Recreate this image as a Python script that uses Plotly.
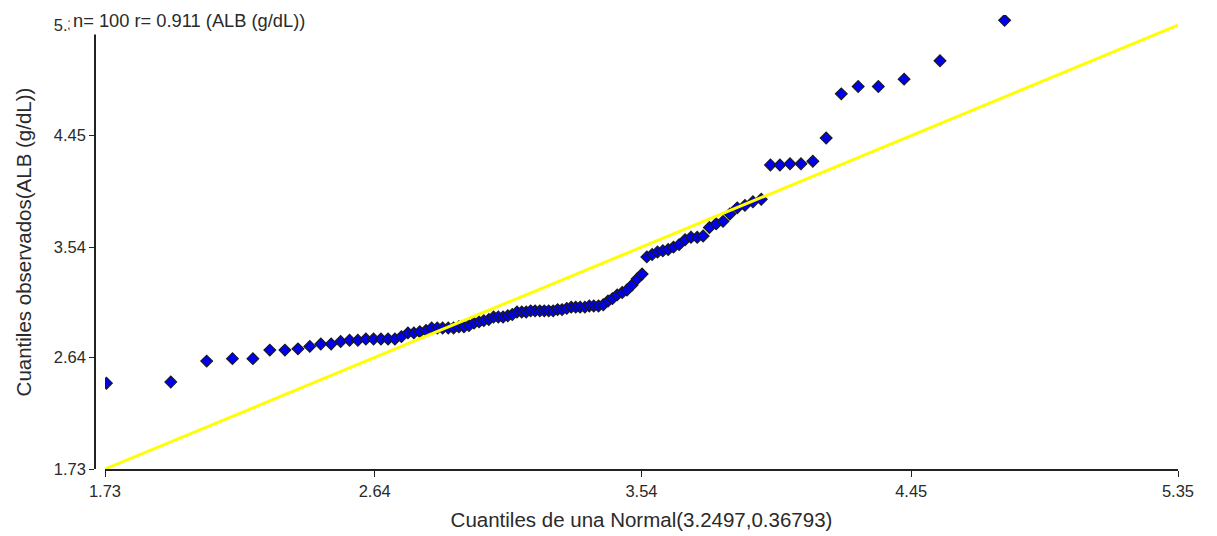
import plotly.graph_objects as go

# Theoretical quantiles of Normal(3.2497, 0.36793) for n = 100
theoretical_q = [
    1.735, 1.952, 2.073, 2.160, 2.229, 2.286, 2.337, 2.381, 2.421, 2.458,
    2.493, 2.525, 2.555, 2.583, 2.610, 2.636, 2.661, 2.685, 2.708, 2.730,
    2.752, 2.772, 2.792, 2.813, 2.832, 2.851, 2.869, 2.888, 2.906, 2.924,
    2.941, 2.958, 2.975, 2.992, 3.008, 3.025, 3.041, 3.057, 3.073, 3.089,
    3.104, 3.120, 3.136, 3.151, 3.166, 3.181, 3.197, 3.212, 3.227, 3.242,
    3.257, 3.272, 3.288, 3.303, 3.318, 3.333, 3.349, 3.364, 3.379, 3.395,
    3.411, 3.427, 3.442, 3.458, 3.475, 3.491, 3.508, 3.525, 3.542, 3.558,
    3.576, 3.594, 3.612, 3.630, 3.648, 3.667, 3.687, 3.707, 3.728, 3.748,
    3.769, 3.792, 3.815, 3.838, 3.863, 3.889, 3.916, 3.944, 3.975, 4.007,
    4.041, 4.078, 4.118, 4.163, 4.214, 4.271, 4.339, 4.426, 4.547, 4.765,
]

# Observed ALB (g/dL), sorted
observed = [
    2.43, 2.44, 2.61, 2.63, 2.63, 2.70, 2.70, 2.71, 2.73, 2.75,
    2.75, 2.77, 2.78, 2.78, 2.79, 2.79, 2.79, 2.79, 2.79, 2.81,
    2.84, 2.84, 2.85, 2.86, 2.88, 2.88, 2.88, 2.88, 2.88, 2.89,
    2.89, 2.90, 2.92, 2.93, 2.94, 2.95, 2.97, 2.97, 2.97, 2.98,
    2.99, 3.01, 3.01, 3.01, 3.02, 3.02, 3.02, 3.02, 3.02, 3.02,
    3.03, 3.03, 3.04, 3.05, 3.05, 3.05, 3.05, 3.06, 3.06, 3.06,
    3.07, 3.10, 3.12, 3.15, 3.17, 3.19, 3.23, 3.28, 3.32, 3.46,
    3.48, 3.50, 3.51, 3.52, 3.54, 3.56, 3.60, 3.62, 3.62, 3.63,
    3.70, 3.73, 3.75, 3.81, 3.86, 3.88, 3.91, 3.93, 4.21, 4.21,
    4.22, 4.22, 4.24, 4.43, 4.79, 4.85, 4.85, 4.91, 5.06, 5.39,
]

# Reference line y = x
ref_x = [1.73, 5.35]
ref_y = [1.73, 5.35]

tick_vals = [1.73, 2.64, 3.54, 4.45, 5.35]
tick_text = ["1.73", "2.64", "3.54", "4.45", "5.35"]

caption = "n= 100 r= 0.911 (ALB (g/dL))"
x_title = "Cuantiles de una Normal(3.2497,0.36793)"
y_title = "Cuantiles observados(ALB (g/dL))"

W, H = 1217, 536
ML, MR, MT, MB = 95, 39, 15, 67
plot_w = W - ML - MR
plot_h = H - MT - MB
x_gap = 10  # y-axis line sits a little left of the x-axis start

FONT = "Liberation Sans, Arial, sans-serif"
TXT = "#2a2a2a"

fig = go.Figure()

fig.add_trace(go.Scatter(
    x=theoretical_q, y=observed, mode="markers",
    marker=dict(symbol="diamond", size=9, color="#0000ee",
                line=dict(color="#1a1a1a", width=1.2)),
    showlegend=False, hoverinfo="x+y",
))

fig.add_trace(go.Scatter(
    x=ref_x, y=ref_y, mode="lines",
    line=dict(color="#ffff00", width=3),
    showlegend=False, hoverinfo="skip",
))

y_top = 1.73 + plot_h / 122.6

fig.update_layout(
    width=W, height=H,
    margin=dict(l=ML, r=MR, t=MT, b=MB),
    paper_bgcolor="white", plot_bgcolor="white",
    font=dict(family=FONT, color=TXT, size=16),
    xaxis=dict(
        domain=[x_gap / plot_w, 1],
        range=[1.73, 5.35],
        tickvals=tick_vals, ticktext=tick_text,
        showgrid=False, zeroline=False,
        showline=True, linecolor="#222", linewidth=1.5,
        ticks="outside", ticklen=6, tickcolor="#222", tickwidth=1,
        tickfont=dict(size=16.5, color=TXT),
        title=dict(text=x_title, font=dict(size=20.5, color=TXT), standoff=14),
        automargin=False,
    ),
    yaxis=dict(
        anchor="free", position=0,
        range=[1.73, y_top],
        tickvals=tick_vals, ticktext=tick_text,
        showgrid=False, zeroline=False,
        showline=True, linecolor="#222", linewidth=1.5,
        ticks="outside", ticklen=5, tickcolor="#222", tickwidth=1,
        tickfont=dict(size=16.5, color=TXT),
        title=dict(text=y_title, font=dict(size=20.5, color=TXT), standoff=16),
        automargin=False,
    ),
    annotations=[dict(
        text=caption, xref="paper", yref="paper",
        x=(69 - ML) / plot_w, y=(H - MB - 21) / plot_h,
        xanchor="left", yanchor="middle", showarrow=False,
        font=dict(size=18.3, color=TXT), bgcolor="white", borderpad=3,
    )],
)

fig.write_html("out.html")
